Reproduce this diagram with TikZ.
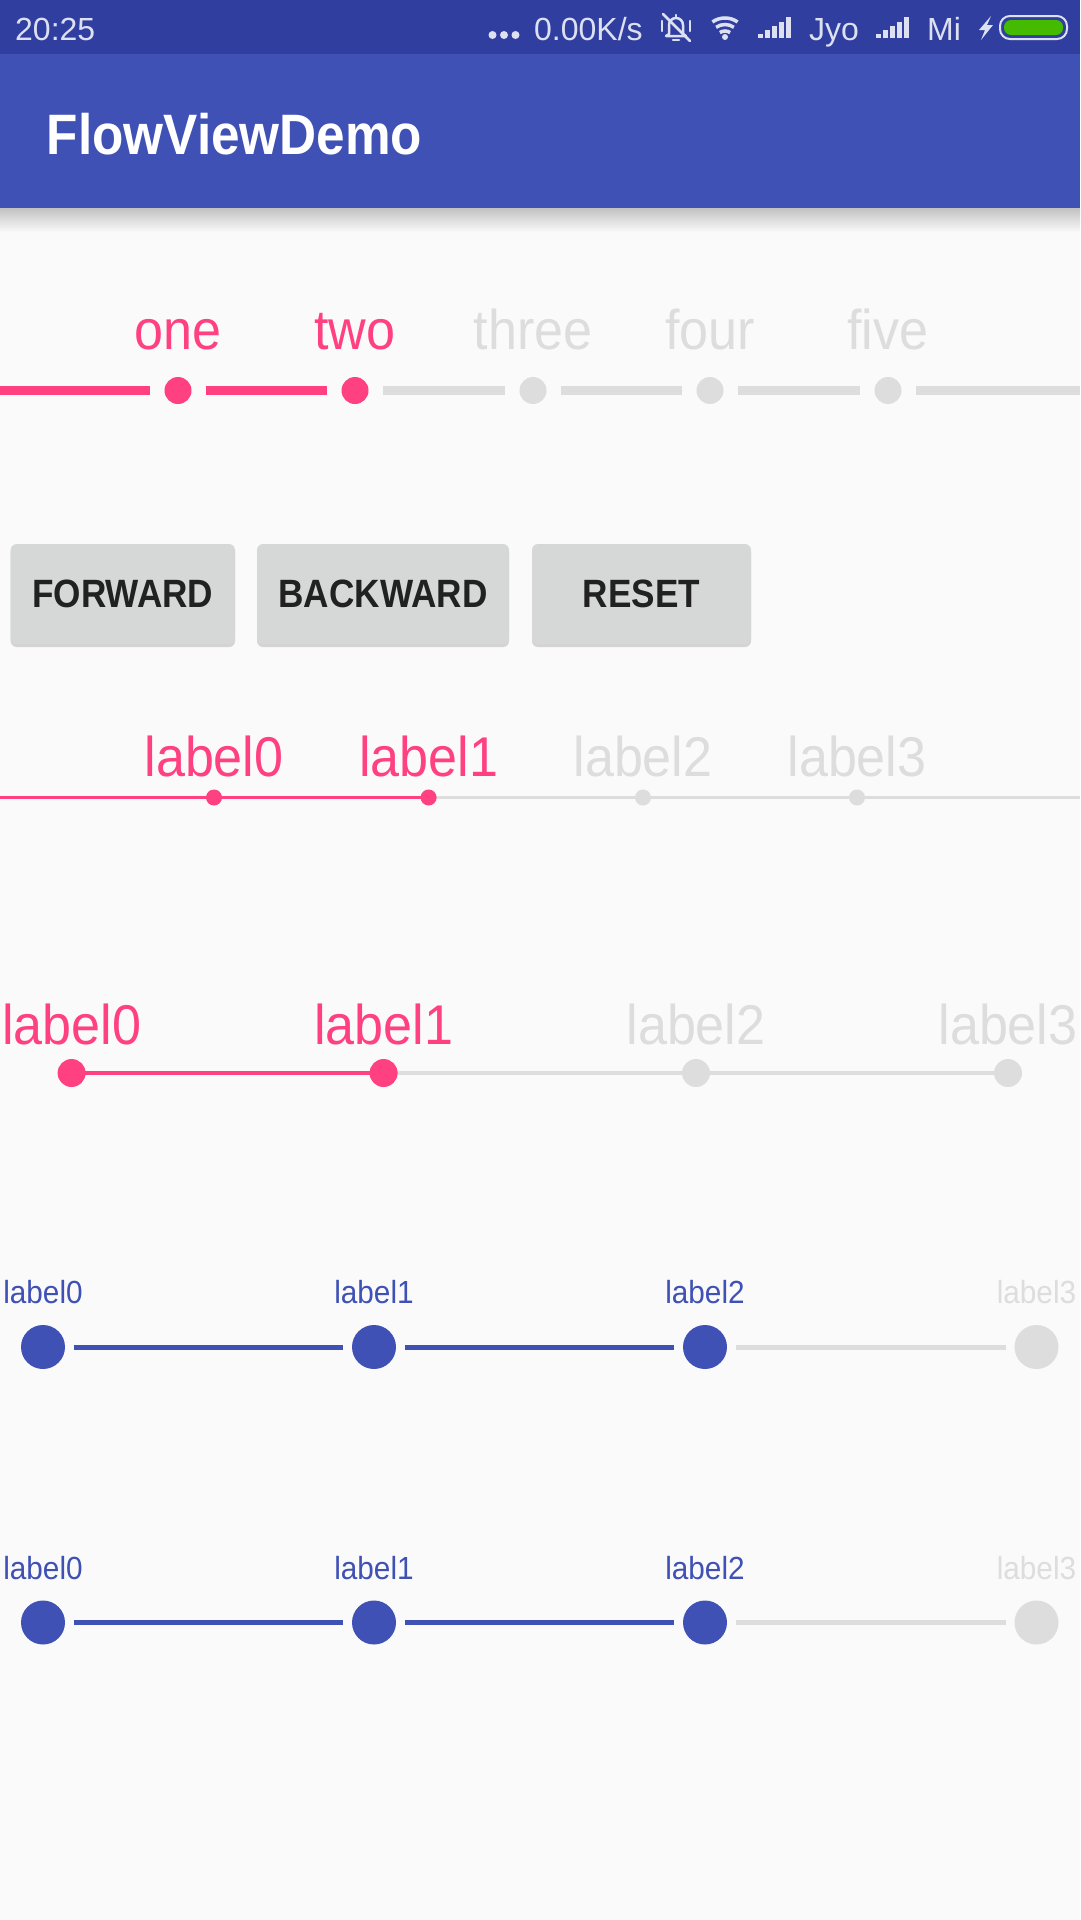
\documentclass[tikz,border=0pt]{standalone}
\usepackage{fontspec}
\setmainfont{Liberation Sans}
\newfontfamily\rob[FakeStretch=0.93]{Liberation Sans}
\newfontfamily\robb[FakeStretch=0.89]{Liberation Sans}
\newfontfamily\ttlf[FakeStretch=0.9]{Liberation Sans}
\usetikzlibrary{shadows}
\definecolor{pinkc}{HTML}{FF4081}
\definecolor{grayc}{HTML}{DDDDDD}
\definecolor{bluec}{HTML}{3F51B5}
\definecolor{statc}{HTML}{303F9F}
\definecolor{bgc}{HTML}{FAFAFA}
\definecolor{btnc}{HTML}{D6D7D7}
\definecolor{btxt}{HTML}{212121}
\definecolor{stxt}{HTML}{DDE0F0}
\definecolor{batg}{HTML}{44BB00}
\tikzset{
  bigl/.style={font=\rob\fontsize{56}{60}\selectfont, anchor=base, inner sep=0pt},
  smll/.style={font=\rob\fontsize{32}{36}\selectfont, anchor=base, inner sep=0pt},
  stat/.style={font=\fontsize{32}{36}\selectfont, text=stxt, anchor=base west, inner sep=0pt},
  dotc/.style={circle, inner sep=0pt, draw=none, minimum size=#1},
  btn/.style={rectangle, rounded corners=6pt, fill=btnc, minimum width=#1, minimum height=100pt,
     inner sep=0pt, text=btxt, font=\robb\bfseries\fontsize{39.5}{44}\selectfont,
     drop shadow={shadow xshift=0pt, shadow yshift=-3pt, opacity=0.15, fill=black}},
  ico/.style={stxt, line width=2.5pt, line join=round, line cap=round}
}
\begin{document}
\begin{tikzpicture}[x=1pt,y=-1pt]
\useasboundingbox (0,0) rectangle (1080,1920);
\fill[bgc] (0,0) rectangle (1080,1920);
% app bar shadow
\shade[top color=black!24, bottom color=bgc] (0,208) rectangle (1080,232);
\fill[statc] (0,0) rectangle (1080,54);
\fill[bluec] (0,54) rectangle (1080,208);
\node[font=\ttlf\bfseries\fontsize{57}{62}\selectfont, text=white, anchor=base west, inner sep=0pt] (title) at (46.7,154) {FlowViewDemo};

% status bar
\node[stat] (time) at (15,40) {20:25};
\fill[stxt] (492.5,35) circle (4) (504,35) circle (4) (515.5,35) circle (4);
\node[stat] (speed) at (534,40) {0.00K/s};
% bell off
\draw[ico] (669,34) -- (669,25) arc[start angle=180, end angle=360, radius=7] -- (683,34) -- (686,36) -- (666,36) -- cycle;
\draw[ico] (676,15) -- (676,17);
\draw[ico] (673,40) -- (679,40);
\draw[ico] (662,21) -- (662,31);
\draw[ico] (690,21) -- (690,31);
\draw[ico] (663,14) -- (690,41);
% wifi
\fill[stxt] (725,37) circle (3);
\foreach \r in {9,15.5,22} {
  \draw[stxt, line width=3.5pt] ([shift={(235:\r)}]725,40) arc[start angle=235, end angle=305, radius=\r];
}
% signal bars
\foreach \sx in {758,876} {
  \foreach \i/\h in {0/4,1/8,2/12,3/16,4/21} {
    \fill[stxt] (\sx+\i*7,38) rectangle (\sx+\i*7+5,38-\h);
  }
}
\node[stat] (jyo) at (809,40) {Jyo};
\node[stat] (mi) at (927,40) {Mi};
% lightning
\fill[stxt] (991,16) -- (979,30) -- (985,30) -- (981,40) -- (993,25) -- (987,25) -- cycle;
% battery
\draw[stxt, line width=2pt, rounded corners=10pt] (1000,16) rectangle (1067,39);
\fill[batg, rounded corners=7pt] (1004,20) rectangle (1063,35);

% ---------- flow 1
\coordinate (L1) at (0,390.5);
\coordinate (R1) at (1080,390.5);
\foreach \n/\x/\c/\t in {0/178/pinkc/one,1/355/pinkc/two,2/533/grayc/three,3/710/grayc/four,4/888/grayc/five} {
  \node[dotc=27pt, fill=\c] (f\n) at (\x,390.5) {};
  \node[bigl, text=\c] (ft\n) at (\x,349) {\t};
}
\draw[pinkc, line width=9pt, shorten >=14pt] (L1) -- (f0);
\draw[pinkc, line width=9pt, shorten >=14pt, shorten <=14pt] (f0) -- (f1);
\draw[grayc, line width=9pt, shorten >=14pt, shorten <=14pt] (f1) -- (f2);
\draw[grayc, line width=9pt, shorten >=14pt, shorten <=14pt] (f2) -- (f3);
\draw[grayc, line width=9pt, shorten >=14pt, shorten <=14pt] (f3) -- (f4);
\draw[grayc, line width=9pt, shorten <=14pt] (f4) -- (R1);

% ---------- buttons
\node[btn=224.3pt] (fwd) at (122.85,594) {FORWARD};
\node[btn=252pt] (bwd) at (383,594) {BACKWARD};
\node[btn=219pt] (rst) at (641.5,594) {RESET};

% ---------- flow 2
\coordinate (L2) at (0,797.5);
\coordinate (R2) at (1080,797.5);
\foreach \n/\x in {0/214,1/428.6,2/643,3/857} {
  \coordinate (g\n c) at (\x,797.5);
}
\draw[pinkc, line width=3pt] (L2) -- (g0c) -- (g1c);
\draw[grayc, line width=3pt] (g1c) -- (g2c) -- (g3c) -- (R2);
\foreach \n/\x/\c in {0/214/pinkc,1/428.6/pinkc,2/643/grayc,3/857/grayc} {
  \node[dotc=16pt, fill=\c] (g\n) at (\x,797.5) {};
  \node[bigl, text=\c] (gt\n) at (\x,776) {label\n};
}

% ---------- flow 3
\foreach \n/\x in {0/71.6,1/383.6,2/696,3/1008} {
  \coordinate (h\n c) at (\x,1073);
}
\draw[pinkc, line width=4.5pt] (h0c) -- (h1c);
\draw[grayc, line width=4.5pt] (h1c) -- (h2c) -- (h3c);
\foreach \n/\x/\c in {0/71.6/pinkc,1/383.6/pinkc,2/696/grayc,3/1008/grayc} {
  \node[dotc=28pt, fill=\c] (h\n) at (\x,1073) {};
  \node[bigl, text=\c] (ht\n) at (\x,1044) {label\n};
}

% ---------- blue flows
\foreach \k/\cy/\by in {a/1347/1303,b/1622.5/1579} {
  \foreach \n/\x/\c in {0/43/bluec,1/374/bluec,2/705/bluec,3/1036.5/grayc} {
    \node[dotc=44pt, fill=\c] (\k\n) at (\x,\cy) {};
    \node[smll, text=\c] (\k t\n) at (\x,\by) {label\n};
  }
  \draw[bluec, line width=5pt, shorten >=8.5pt, shorten <=8.5pt] (\k0) -- (\k1);
  \draw[bluec, line width=5pt, shorten >=8.5pt, shorten <=8.5pt] (\k1) -- (\k2);
  \draw[grayc, line width=5pt, shorten >=8.5pt, shorten <=8.5pt] (\k2) -- (\k3);
}
\end{tikzpicture}
\end{document}
